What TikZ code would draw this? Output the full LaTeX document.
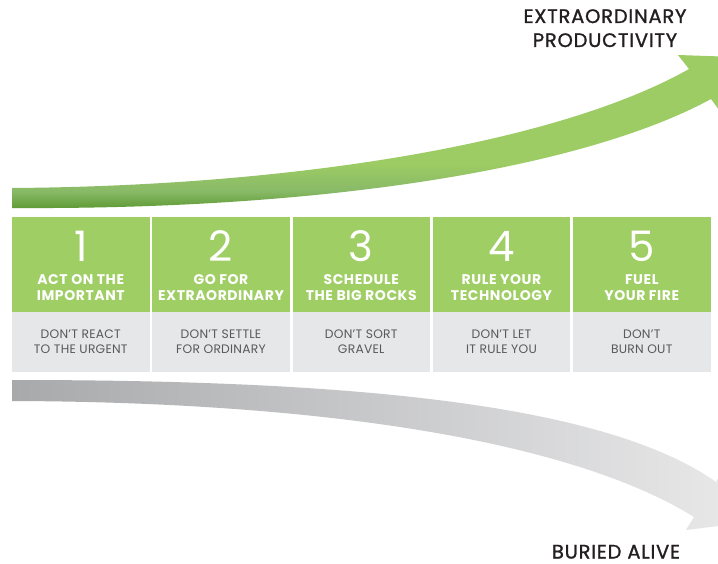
\documentclass[tikz,border=0pt]{standalone}
\usepackage{fontspec}
\setmainfont{Poppins}
\newfontfamily\medfont{Poppins}[FakeBold=1.2, LetterSpace=4]
\definecolor{gbox}{HTML}{9FCE64}
\definecolor{grybox}{HTML}{E6E7E8}
\definecolor{subtxt}{HTML}{58595B}
\definecolor{lbl}{HTML}{231F20}
\definecolor{gdark}{HTML}{5B9830}
\definecolor{gmid}{HTML}{88B967}
\definecolor{glight}{HTML}{9DCC64}
\definecolor{greyL}{HTML}{A8A9AB}
\definecolor{greyR}{HTML}{E9E9EA}
\pgfdeclareverticalshading{greenarrow}{100bp}{color(0bp)=(gdark); color(25bp)=(gdark); color(31bp)=(gmid); color(40bp)=(glight); color(100bp)=(glight)}
\tikzset{
  greenbox/.style={fill=gbox, draw=none, inner sep=0pt, outer sep=0pt, minimum width=137.5pt, minimum height=95pt},
  greybox/.style={fill=grybox, draw=none, inner sep=0pt, outer sep=0pt, minimum width=137.5pt, minimum height=60pt},
  numtxt/.style={anchor=base, text=white, inner sep=0pt, font=\fontsize{42}{42}\selectfont},
  titletxt/.style={anchor=base, text=white, inner sep=0pt, font=\fontsize{14}{16}\selectfont\bfseries\addfontfeature{LetterSpace=4}},
  subtext/.style={anchor=base, text=subtxt, inner sep=0pt, font=\fontsize{12.3}{14}\selectfont\addfontfeature{LetterSpace=2}},
  toplbl/.style={anchor=base, text=lbl, inner sep=0pt, font=\fontsize{19.5}{21}\selectfont\medfont},
}
\begin{document}
\begin{tikzpicture}[x=1pt,y=-1pt]
\useasboundingbox (0,0) rectangle (718,564);
\clip (0,0) rectangle (718,564);
\fill[white] (0,0) rectangle (718,564);
% green arrow
\path[shading=greenarrow] (12,188) .. controls (300,186) and (560,142) .. (689,69)
  -- (678,55) -- (736,57) -- (722,114) -- (711,99)
  .. controls (590,165) and (340,210) .. (12,208) -- cycle;
% grey arrow
\path[left color=greyL, right color=greyR] (12,380) .. controls (330,380) and (600,400) .. (716,482)
  -- (724,469) -- (743,523) -- (686,530) -- (694,517)
  .. controls (570,440) and (320,402) .. (12,401) -- cycle;
% boxes
\foreach \i/\ta/\tb/\sa/\sb in {1/ACT ON THE/IMPORTANT/DON’T REACT/TO THE URGENT,
  2/GO FOR/EXTRAORDINARY/DON’T SETTLE/FOR ORDINARY,
  3/SCHEDULE/THE BIG ROCKS/DON’T SORT/GRAVEL,
  4/RULE YOUR/TECHNOLOGY/DON’T LET/IT RULE YOU,
  5/FUEL/YOUR FIRE/DON’T/BURN OUT}{
  \pgfmathsetmacro\cx{80.75+(\i-1)*140.25}
  \node[greenbox] (g\i) at (\cx,264.5) {};
  \node[greybox] (r\i) at (\cx,342) {};
  \node[numtxt] (n\i) at (\cx,262) {\i};
  \node[titletxt] (ta\i) at (\cx,285) {\ta};
  \node[titletxt] (tb\i) at (\cx,301) {\tb};
  \node[subtext] (sa\i) at (\cx,338) {\sa};
  \node[subtext] (sb\i) at (\cx,353) {\sb};
}
\node[toplbl] (ep1) at (605,23) {EXTRAORDINARY};
\node[toplbl] (ep2) at (605,47) {PRODUCTIVITY};
\node[toplbl] (ba) at (616,558.5) {BURIED ALIVE};
\end{tikzpicture}
\end{document}
